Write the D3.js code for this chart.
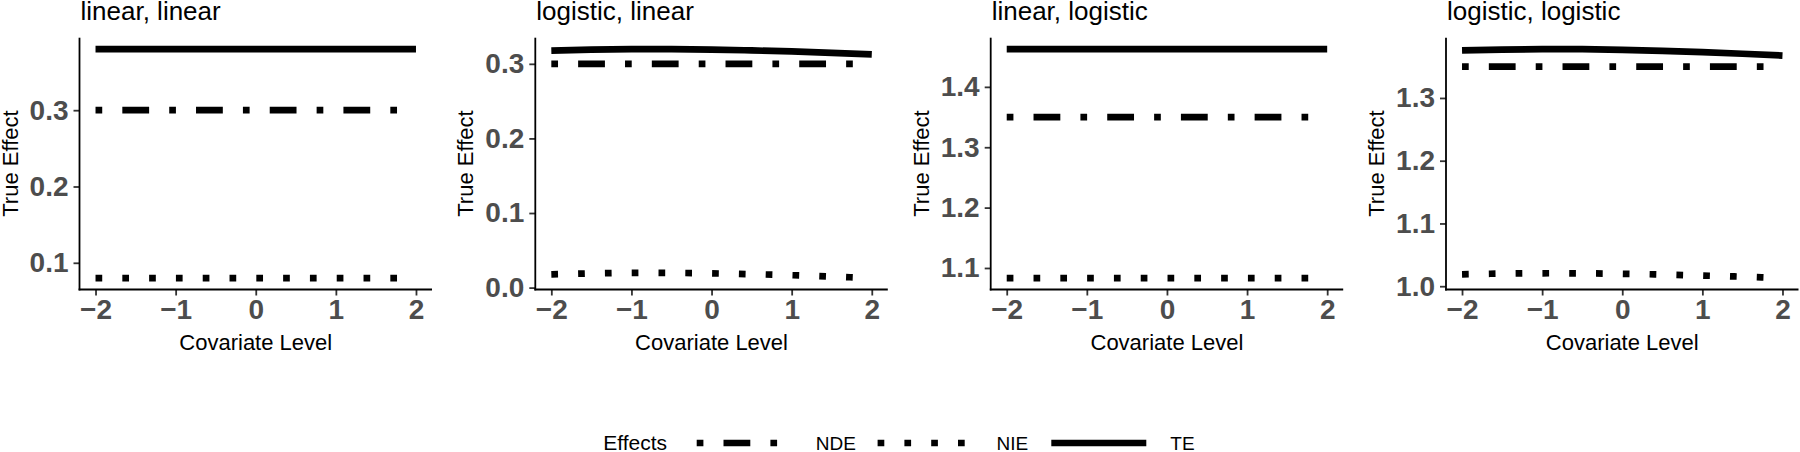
<!DOCTYPE html>
<html><head><meta charset="utf-8">
<script src="https://cdn.jsdelivr.net/npm/d3@7"></script>
<style>
html,body{margin:0;padding:0;background:#fff;}
svg{display:block;font-family:"Liberation Sans",Arial,Helvetica,sans-serif;}
</style></head>
<body>
<svg id="chart" width="1800" height="452"></svg>
<script>
// ---------- data ----------
const covariate = [-2, -1.5, -1, -0.5, 0, 0.5, 1, 1.5, 2];
const panelTitles = ["linear, linear", "logistic, linear", "linear, logistic", "logistic, logistic"];
const xTicks = [-2, -1, 0, 1, 2];

const ndeLinLin = [0.3, 0.3, 0.3, 0.3, 0.3, 0.3, 0.3, 0.3, 0.3];
const nieLinLin = [0.08, 0.08, 0.08, 0.08, 0.08, 0.08, 0.08, 0.08, 0.08];
const teLinLin  = [0.38, 0.38, 0.38, 0.38, 0.38, 0.38, 0.38, 0.38, 0.38];
const yTicksLinLin = [0.1, 0.2, 0.3];

const ndeLogLin = [0.3, 0.3, 0.3, 0.3, 0.3, 0.3, 0.3, 0.3, 0.3];
const nieLogLin = [0.0178, 0.0190, 0.0197, 0.0197, 0.0191, 0.0180, 0.0166, 0.0148, 0.0128];
const teLogLin  = [0.3178, 0.3190, 0.3197, 0.3197, 0.3191, 0.3180, 0.3166, 0.3148, 0.3128];
const yTicksLogLin = [0.0, 0.1, 0.2, 0.3];

const ndeLinLog = [1.35, 1.35, 1.35, 1.35, 1.35, 1.35, 1.35, 1.35, 1.35];
const nieLinLog = [1.0833, 1.0833, 1.0833, 1.0833, 1.0833, 1.0833, 1.0833, 1.0833, 1.0833];
const teLinLog  = [1.4625, 1.4625, 1.4625, 1.4625, 1.4625, 1.4625, 1.4625, 1.4625, 1.4625];
const yTicksLinLog = [1.1, 1.2, 1.3, 1.4];

const ndeLogLog = [1.35, 1.35, 1.35, 1.35, 1.35, 1.35, 1.35, 1.35, 1.35];
const nieLogLog = [1.0190, 1.0201, 1.0206, 1.0205, 1.0198, 1.0186, 1.0170, 1.0152, 1.0130];
const teLogLog  = [1.3757, 1.3771, 1.3778, 1.3777, 1.3767, 1.3751, 1.3730, 1.3705, 1.3676];
const yTicksLogLog = [1.0, 1.1, 1.2, 1.3];

const effectNames = ["NDE", "NIE", "TE"];

// ---------- layout ----------
const panels = [
  {title: panelTitles[0], nde: ndeLinLin, nie: nieLinLin, te: teLinLin, ticks: yTicksLinLin},
  {title: panelTitles[1], nde: ndeLogLin, nie: nieLogLin, te: teLogLin, ticks: yTicksLogLin},
  {title: panelTitles[2], nde: ndeLinLog, nie: nieLinLog, te: teLinLog, ticks: yTicksLinLog},
  {title: panelTitles[3], nde: ndeLogLog, nie: nieLogLog, te: teLogLog, ticks: yTicksLogLog}
];
const panelLefts = [79.5, 535.3, 990.7, 1446];
const panelW = 352.5;
const plotTop = 37.7, plotBottom = 289.5;
const LW = 6.7;
const dashFor = {
  NDE: `${LW} ${3*LW} ${4*LW} ${3*LW}`,
  NIE: `${LW} ${3*LW}`,
  TE: null
};

const svg = d3.select("#chart");
const fmt = d3.format(".1f");
const minus = v => (v < 0 ? "\u2212" + Math.abs(v) : String(v));

panels.forEach((p, i) => {
  const left = panelLefts[i];
  const x = d3.scaleLinear().domain([-2.2, 2.2]).range([left, left + panelW]);
  const all = p.nde.concat(p.nie, p.te);
  const lo = d3.min(all), hi = d3.max(all), pad = (hi - lo) * 0.05;
  const y = d3.scaleLinear().domain([lo - pad, hi + pad]).range([plotBottom, plotTop]);

  const g = svg.append("g");

  // series
  const series = {NDE: p.nde, NIE: p.nie, TE: p.te};
  const line = d3.line().x((d, j) => x(covariate[j])).y(d => y(d)).curve(d3.curveNatural);
  ["NIE", "NDE", "TE"].forEach(k => {
    g.append("path")
      .attr("d", line(series[k]))
      .attr("fill", "none")
      .attr("stroke", "#000")
      .attr("stroke-width", LW)
      .attr("stroke-linecap", "butt")
      .attr("stroke-dasharray", dashFor[k]);
  });

  // y axis
  const yAxis = d3.axisLeft(y).tickValues(p.ticks).tickFormat(fmt).tickSize(6).tickSizeOuter(0).tickPadding(5);
  const ya = g.append("g").attr("transform", `translate(${left},0)`).call(yAxis);
  ya.select(".domain").remove();
  ya.selectAll(".tick line").attr("stroke", "#333").attr("stroke-width", 1.8);
  ya.selectAll(".tick text").attr("fill", "#4d4d4d").attr("font-size", 28).attr("font-weight", "bold")
    .attr("font-family", '"Liberation Sans",Arial,sans-serif');
  g.append("line").attr("x1", left).attr("x2", left).attr("y1", plotTop).attr("y2", plotBottom + 0.9)
    .attr("stroke", "#000").attr("stroke-width", 1.8);

  // x axis
  const xAxis = d3.axisBottom(x).tickValues(xTicks).tickFormat(minus).tickSize(6).tickSizeOuter(0).tickPadding(4);
  const xa = g.append("g").attr("transform", `translate(0,${plotBottom})`).call(xAxis);
  xa.select(".domain").remove();
  xa.selectAll(".tick line").attr("stroke", "#333").attr("stroke-width", 1.8);
  xa.selectAll(".tick text").attr("fill", "#4d4d4d").attr("font-size", 28).attr("font-weight", "bold")
    .attr("font-family", '"Liberation Sans",Arial,sans-serif');
  g.append("line").attr("x1", left - 0.9).attr("x2", left + panelW).attr("y1", plotBottom).attr("y2", plotBottom)
    .attr("stroke", "#000").attr("stroke-width", 1.8);

  // axis titles
  g.append("text").attr("x", x(0)).attr("y", 350).attr("text-anchor", "middle")
    .attr("font-size", 22).attr("fill", "#000").text("Covariate Level");
  g.append("text").attr("transform", `translate(${left - 62.0},${(plotTop + plotBottom) / 2}) rotate(-90)`)
    .attr("text-anchor", "middle").attr("font-size", 22).attr("fill", "#000").text("True Effect");

  // panel title
  g.append("text").attr("x", left + 1).attr("y", 20)
    .attr("font-size", 26).attr("fill", "#000").text(p.title);
});

// ---------- legend ----------
const legY = 443;
const leg = svg.append("g");
leg.append("text").attr("x", 603.3).attr("y", legY).attr("dy", "0.35em")
  .attr("font-size", 21).attr("fill", "#000").text("Effects");
const keyStarts = [696.7, 877.6, 1051.3];
const keyW = 95;
effectNames.forEach((name, i) => {
  const kx = d3.scaleLinear().domain([0, 1]).range([keyStarts[i], keyStarts[i] + keyW]);
  leg.append("line").attr("x1", kx(0)).attr("x2", kx(1)).attr("y1", legY).attr("y2", legY)
    .attr("stroke", "#000").attr("stroke-width", LW).attr("stroke-linecap", "butt")
    .attr("stroke-dasharray", dashFor[name]);
  leg.append("text").attr("x", kx(1) + 24).attr("y", legY).attr("dy", "0.35em")
    .attr("font-size", 19).attr("fill", "#000").text(name);
});
</script>
</body></html>
